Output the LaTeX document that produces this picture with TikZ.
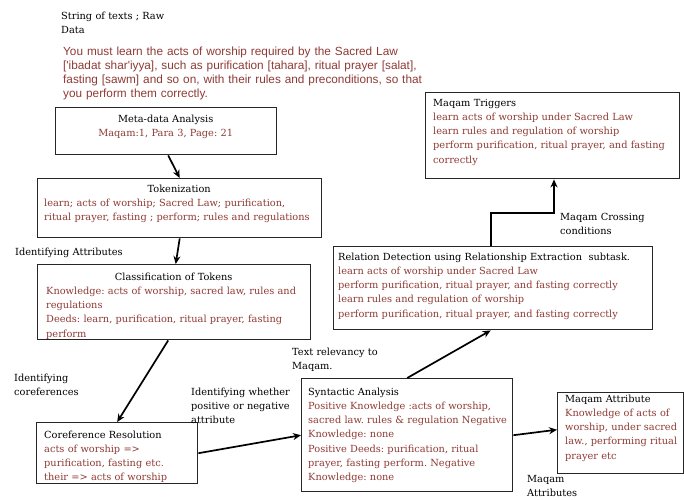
\documentclass[tikz,border=0pt]{standalone}
\usepackage{fontspec}
\setmainfont{DejaVu Serif}
\newfontfamily\rawfont{Liberation Sans}
\usetikzlibrary{arrows.meta}
\definecolor{maqamred}{RGB}{142,58,52}
\frenchspacing
\tikzset{stagebox/.style={draw=black!85, line width=1.4pt, anchor=north west, inner sep=0pt},
  stagetext/.style={anchor=base west, inner sep=0pt, align=left, font=\fontsize{9.8}{14.3}\selectfont},
  note/.style={anchor=base west, inner sep=0pt, align=left, text width=150pt, font=\fontsize{9.8}{14}\selectfont},
  flow/.style={-{Stealth[length=8pt,width=7pt]}, line width=1.7pt}}

\begin{document}
\begin{tikzpicture}[x=1pt, y=-1pt]
\useasboundingbox (0,0) rectangle (684,499);
% raw input
\node[note] (rawlabel) at (61,19) {String of texts ; Raw\\Data};
\node[note, text width=380pt, text=maqamred, font=\rawfont\fontsize{11.8}{14.3}\selectfont] (rawtext) at (63,55)
  {You must learn the acts of worship required by the Sacred Law\\{}%
   ['ibadat shar'iyya], such as purification [tahara], ritual prayer [salat],\\
   fasting [sawm] and so on, with their rules and preconditions, so that\\
   you perform them correctly.};
% stages
\node[stagebox, minimum width=221pt, minimum height=47pt] (meta) at (55,107) {};
\node[stagetext, text width=213pt, align=center] (metatext) at (59,122)
  {Meta-data Analysis\\\color{maqamred}Maqam:1, Para 3, Page: 21};
\node[stagebox, minimum width=284pt, minimum height=59pt] (token) at (37,178) {};
\node[stagetext, text width=270pt] (tokentext) at (44,192)
  {\hfill Tokenization\hfill\mbox{}\\\color{maqamred}learn; acts of worship; Sacred Law; purification,\\
   ritual prayer, fasting ; perform; rules and regulations};
\node[stagebox, minimum width=273pt, minimum height=75pt] (class) at (37,264) {};
\node[stagetext, text width=255pt] (classtext) at (46,280)
  {\hfill Classification of Tokens\hfill\mbox{}\\\color{maqamred}Knowledge: acts of worship, sacred law, rules and\\
   regulations\\Deeds: learn, purification, ritual prayer, fasting\\perform};
\node[stagebox, minimum width=161pt, minimum height=61pt] (coref) at (36,422) {};
\node[stagetext, text width=150pt] (coreftext) at (44,438)
  {Coreference Resolution\\\color{maqamred}acts of worship =>\\purification, fasting etc.\\their => acts of worship};
\node[stagebox, minimum width=211pt, minimum height=113pt] (synt) at (301,378) {};
\node[stagetext, text width=202pt] (synttext) at (308,395)
  {Syntactic Analysis\\\color{maqamred}Positive Knowledge :acts of worship,\\
   sacred law. rules \& regulation Negative\\Knowledge: none\\
   Positive Deeds: purification, ritual\\prayer, fasting perform. Negative\\Knowledge: none};
\node[stagebox, minimum width=319pt, minimum height=83pt] (rel) at (333,246) {};
\node[stagetext, text width=312pt] (reltext) at (338,260)
  {Relation Detection using Relationship Extraction~ subtask.\\\color{maqamred}learn acts of worship under Sacred Law\\
   perform purification, ritual prayer, and fasting correctly\\learn rules and regulation of worship\\
   perform purification, ritual prayer, and fasting correctly};
\node[stagebox, minimum width=254pt, minimum height=86pt] (trig) at (425,92) {};
\node[stagetext, text width=244pt] (trigtext) at (433,106)
  {Maqam Triggers\\\color{maqamred}learn acts of worship under Sacred Law\\learn rules and regulation of worship\\
   perform purification, ritual prayer, and fasting\\correctly};
\node[stagebox, minimum width=126pt, minimum height=81pt] (attr) at (557,392) {};
\node[stagetext, text width=118pt] (attrtext) at (565,402)
  {Maqam Attribute\\\color{maqamred}Knowledge of acts of\\worship, under sacred\\law., performing ritual\\prayer etc};
% edge labels
\node[note] (attrlabel) at (15,255) {Identifying Attributes};
\node[note] (coreflabel) at (14,381) {Identifying\\coreferences};
\node[note] (polaritylabel) at (191,395) {Identifying whether\\positive or negative\\attribute};
\node[note] (relevancylabel) at (292,355) {Text relevancy to\\Maqam.};
\node[note] (crossinglabel) at (560,220) {Maqam Crossing\\conditions};
\node[note] (outlabel) at (527,482) {Maqam\\Attributes};
% flow
\coordinate (turn) at (554,213);
\draw[flow] ([xshift=2pt]meta.south) -- (token.north);
\draw[flow] (token.south) -- ([xshift=1.5pt]class.north);
\draw[flow] ([xshift=-6pt]class.south) -- (coref.north);
\draw[flow] (coref.east) -- (synt.west);
\draw[flow] (synt.north) -- ([xshift=-2.5pt]rel.south);
\draw[flow] ([xshift=-2.5pt]rel.north) |- (turn) -- (turn |- trig.south);
\draw[flow] (synt.east) -- ([yshift=3.5pt]attr.west);
\end{tikzpicture}
\end{document}
